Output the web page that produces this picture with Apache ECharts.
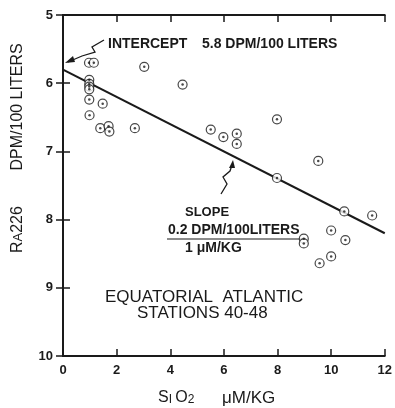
<!DOCTYPE html>
<html>
<head>
<meta charset="utf-8">
<script src="https://cdn.jsdelivr.net/npm/echarts@6/dist/echarts.min.js"></script>
<style>
  html, body { margin: 0; padding: 0; background: #fff; }
  #chart { width: 395px; height: 408px; }
</style>
</head>
<body>
<div id="chart"></div>
<script>
// SiO2 (uM/kg) vs Ra226 (dpm/100 liters), equatorial Atlantic
const silica = [0.97, 1.15, 0.98, 0.98, 0.98, 0.98, 0.98, 1.48, 0.99, 1.39, 1.70, 1.73, 2.68, 3.03, 4.46,
  5.51, 5.98, 6.48, 6.48, 7.98, 9.52, 7.98, 10.49, 11.53, 10.0, 8.98, 8.98, 10.53, 10.0, 9.57]
const radium = [5.70, 5.70, 5.95, 6.01, 6.05, 6.09, 6.24, 6.30, 6.47, 6.66, 6.63, 6.71, 6.66, 5.76, 6.02,
  6.68, 6.79, 6.74, 6.89, 6.53, 7.14, 7.39, 7.88, 7.94, 8.16, 8.28, 8.35, 8.30, 8.54, 8.64]

// regression: intercept 5.8, slope 0.2
const fitX = [0, 12]
const fitY = [5.8, 8.2]

const xTicks = [0, 2, 4, 6, 8, 10, 12]
const yTicks = [5, 6, 7, 8, 9, 10]

const ink = '#1a1a1a'
const font = 'Liberation Sans'

const chart = echarts.init(document.getElementById('chart'))

const points = silica.map((x, i) => [x, radium[i]])

const axisCommon = {
  axisLine: { show: true, lineStyle: { color: ink, width: 2 } },
  axisTick: { show: true, inside: true, length: 7, lineStyle: { color: ink, width: 1.5 } },
  splitLine: { show: false }
}

const option = {
  animation: false,
  backgroundColor: '#fff',
  grid: { left: 63, right: 5, top: 15, bottom: 52 },
  xAxis: [
    {
      type: 'value', min: xTicks[0], max: xTicks[xTicks.length - 1], interval: 2,
      ...axisCommon,
      axisLabel: { color: ink, fontFamily: font, fontWeight: 'bold', fontSize: 13, margin: 8 }
    },
    {
      type: 'value', position: 'top', min: 0, max: 12, interval: 2,
      ...axisCommon,
      axisLabel: { show: false }
    }
  ],
  yAxis: [
    {
      type: 'value', inverse: true, min: yTicks[0], max: yTicks[yTicks.length - 1], interval: 1,
      ...axisCommon,
      axisLabel: { color: ink, fontFamily: font, fontWeight: 'bold', fontSize: 13, margin: 10 }
    },
    {
      type: 'value', position: 'right', inverse: true, min: 5, max: 10, interval: 1,
      ...axisCommon,
      axisLabel: { show: false }
    }
  ],
  series: [
    {
      type: 'line',
      data: fitX.map((x, i) => [x, fitY[i]]),
      symbol: 'none',
      lineStyle: { color: ink, width: 2 },
      z: 1
    },
    {
      type: 'scatter',
      data: points,
      symbol: 'circle',
      symbolSize: 9,
      itemStyle: { color: '#fff', borderColor: ink, borderWidth: 1.2 },
      z: 2
    },
    {
      type: 'scatter',
      data: points,
      symbol: 'circle',
      symbolSize: 2.5,
      itemStyle: { color: ink },
      z: 3
    }
  ],
  graphic: [
    // intercept note and arrow
    {
      type: 'text', left: 108, top: 37,
      style: { text: 'INTERCEPT', fill: ink, font: 'bold 14px ' + font }
    },
    {
      type: 'text', left: 202, top: 37,
      style: { text: '5.8 DPM/100 LITERS', fill: ink, font: 'bold 14px ' + font }
    },
    {
      type: 'polyline',
      shape: { points: [[104, 40], [92, 47], [95, 52], [82, 56], [68, 62]] },
      style: { stroke: ink, lineWidth: 1.3, fill: null }
    },
    {
      type: 'polygon',
      shape: { points: [[65, 63], [73, 56], [75, 62]] },
      style: { fill: ink }
    },
    // slope note and arrow
    {
      type: 'text', left: 185, top: 206,
      style: { text: 'SLOPE', fill: ink, font: 'bold 13px ' + font }
    },
    {
      type: 'text', left: 168, top: 223,
      style: { text: '0.2 DPM/100LITERS', fill: ink, font: 'bold 14px ' + font }
    },
    {
      type: 'line',
      shape: { x1: 167, y1: 239, x2: 306, y2: 239 },
      style: { stroke: ink, lineWidth: 1.2 }
    },
    {
      type: 'text', left: 185, top: 241,
      style: { text: '1 \u03BCM/KG', fill: ink, font: 'bold 14px ' + font }
    },
    {
      type: 'polyline',
      shape: { points: [[221, 194], [227, 184], [223, 177], [230, 171], [232, 165]] },
      style: { stroke: ink, lineWidth: 1.3, fill: null }
    },
    {
      type: 'polygon',
      shape: { points: [[233, 160], [229, 168], [235, 168]] },
      style: { fill: ink }
    },
    // station label
    {
      type: 'text', left: 105, top: 289,
      style: { text: 'EQUATORIAL  ATLANTIC', fill: ink, font: '17px ' + font }
    },
    {
      type: 'text', left: 137, top: 305,
      style: { text: 'STATIONS 40-48', fill: ink, font: '17px ' + font }
    },
    // axis titles
    {
      type: 'text', x: 10, y: 253, rotation: Math.PI / 2,
      style: {
        text: '{b|R}{s|A}{b|226        DPM/100 LITERS}',
        fill: ink,
        rich: {
          b: { fontFamily: font, fontSize: 16, fill: ink },
          s: { fontFamily: font, fontSize: 13, fill: ink }
        }
      }
    },
    {
      type: 'text', left: 158, top: 390,
      style: {
        text: '{b|S}{s|I} {b|O}{s|2}',
        fill: ink,
        rich: {
          b: { fontFamily: font, fontSize: 16, fill: ink },
          s: { fontFamily: font, fontSize: 12, fill: ink, verticalAlign: 'bottom' }
        }
      }
    },
    {
      type: 'text', left: 222, top: 390,
      style: { text: '\u03BCM/KG', fill: ink, font: '17px ' + font }
    }
  ]
}

chart.setOption(option)
</script>
</body>
</html>
